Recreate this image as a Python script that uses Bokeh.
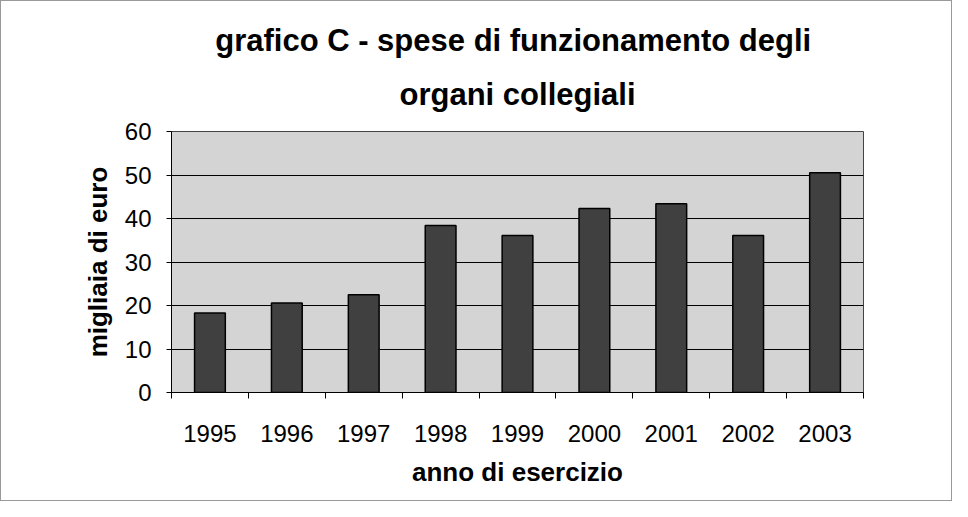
from bokeh.plotting import figure
from bokeh.models import FixedTicker, Range1d, Title, ColumnDataSource
from bokeh.embed import file_html
from bokeh.resources import INLINE

years = ["1995", "1996", "1997", "1998", "1999", "2000", "2001", "2002", "2003"]
values = [18.3, 20.6, 22.5, 38.4, 36.1, 42.3, 43.4, 36.1, 50.5]
y_ticks = [0, 10, 20, 30, 40, 50, 60]
title_line1 = "grafico C -  spese di funzionamento degli"
title_line2 = "organi collegiali"
x_label = "anno di esercizio"
y_label = "migliaia di euro"

n = len(years)
xpos = [i + 0.5 for i in range(n)]
src = ColumnDataSource(dict(x=xpos, top=values, year=years))

FONT = "Liberation Sans"

p = figure(width=952, height=501, output_backend="svg", toolbar_location=None,
           x_range=Range1d(0, n), y_range=Range1d(0, 60), title=None,
           min_border_left=170, min_border_right=90, min_border_top=130,
           min_border_bottom=110)

p.add_layout(Title(text=title_line2, align="center", text_font=FONT,
                   text_font_size="31px", text_font_style="bold",
                   text_color="black", standoff=39), "above")
p.add_layout(Title(text=title_line1, align="center", text_font=FONT,
                   text_font_size="31px", text_font_style="bold",
                   text_color="black", standoff=-4), "above")

p.vbar(x="x", top="top", bottom=0, width=0.4, source=src,
       fill_color="#404040", line_color="black", line_width=1.5)

p.background_fill_color = "#d4d4d4"
p.border_fill_color = "white"
p.outline_line_color = "#444444"
p.outline_line_width = 1

# y axis
p.yaxis.ticker = FixedTicker(ticks=y_ticks)
p.yaxis.axis_label = y_label
p.yaxis.axis_label_text_font = FONT
p.yaxis.axis_label_text_font_size = "26px"
p.yaxis.axis_label_text_font_style = "bold"
p.yaxis.axis_label_text_color = "black"
p.yaxis.axis_label_standoff = 9
p.yaxis.major_label_text_font = FONT
p.yaxis.major_label_text_font_size = "24px"
p.yaxis.major_label_text_color = "black"
p.yaxis.major_label_standoff = 15
p.yaxis.major_tick_out = 5
p.yaxis.major_tick_in = 0
p.yaxis.major_tick_line_color = "black"
p.yaxis.minor_tick_line_color = None
p.yaxis.axis_line_color = "black"

# x axis
p.xaxis.ticker = FixedTicker(ticks=xpos, minor_ticks=list(range(n + 1)))
p.xaxis.major_label_overrides = {x: y for x, y in zip(xpos, years)}
p.xaxis.major_tick_line_color = None
p.xaxis.minor_tick_out = 6
p.xaxis.minor_tick_in = 0
p.xaxis.minor_tick_line_color = "black"
p.xaxis.axis_label = x_label
p.xaxis.axis_label_text_font = FONT
p.xaxis.axis_label_text_font_size = "26px"
p.xaxis.axis_label_text_font_style = "bold"
p.xaxis.axis_label_text_color = "black"
p.xaxis.axis_label_standoff = 12
p.xaxis.major_label_text_font = FONT
p.xaxis.major_label_text_font_size = "24px"
p.xaxis.major_label_text_color = "black"
p.xaxis.major_label_standoff = 26
p.xaxis.axis_line_color = "black"

p.xgrid.grid_line_color = None
p.ygrid.ticker = FixedTicker(ticks=y_ticks)
p.ygrid.grid_line_color = "black"
p.ygrid.grid_line_width = 1

p.styles = {"border": "1px solid #999999"}

open("out.html", "w").write(file_html(p, INLINE))
